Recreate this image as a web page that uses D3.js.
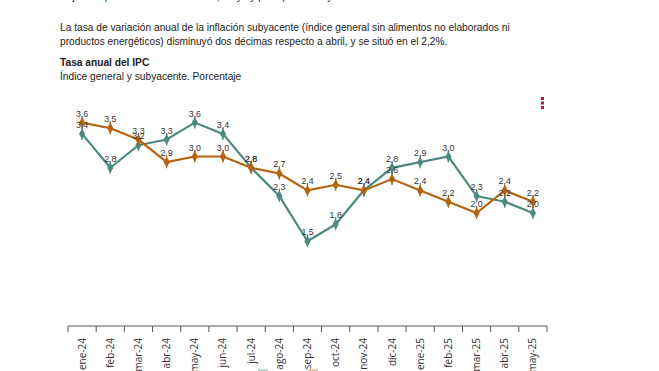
<!DOCTYPE html>
<html>
<head>
<meta charset="utf-8">
<script src="https://cdn.jsdelivr.net/npm/d3@7"></script>
<style>
  body { margin: 0; background: #fff; }
  svg { display: block; }
  .txt { font-family: "Liberation Sans", Arial, sans-serif; font-size: 10.2px; fill: #222; }
  .val { font-family: "Liberation Sans", Arial, sans-serif; font-size: 8.8px; fill: #333; }
  .tick text { font-family: "Open Sans", "DejaVu Sans", sans-serif; font-size: 10px; fill: #333; }
</style>
</head>
<body>
<div id="chart"></div>
<script>
// datos
var months = ['ene-24','feb-24','mar-24','abr-24','may-24','jun-24','jul-24','ago-24','sep-24',
              'oct-24','nov-24','dic-24','ene-25','feb-25','mar-25','abr-25','may-25'];
var general = [3.4, 2.8, 3.2, 3.3, 3.6, 3.4, 2.8, 2.3, 1.5, 1.8, 2.4, 2.8, 2.9, 3.0, 2.3, 2.2, 2.0];
var subyacente = [3.6, 3.5, 3.3, 2.9, 3.0, 3.0, 2.8, 2.7, 2.4, 2.5, 2.4, 2.6, 2.4, 2.2, 2.0, 2.4, 2.2];

var W = 659, H = 371;
var svg = d3.select('#chart').append('svg').attr('width', W).attr('height', H);

// texto
svg.append('text').attr('class', 'txt').attr('x', 60).attr('y', 0)
  .text('Bajan los precios de la electricidad, mayo y principalmente y');
svg.append('text').attr('class', 'txt').attr('x', 60).attr('y', 31)
  .text('La tasa de variación anual de la inflación subyacente (índice general sin alimentos no elaborados ni');
svg.append('text').attr('class', 'txt').attr('x', 60).attr('y', 45)
  .text('productos energéticos) disminuyó dos décimas respecto a abril, y se situó en el 2,2%.');
svg.append('text').attr('class', 'txt').attr('x', 60).attr('y', 66)
  .style('font-weight', 'bold').text('Tasa anual del IPC');
svg.append('text').attr('class', 'txt').attr('x', 60).attr('y', 80)
  .text('Índice general y subyacente. Porcentaje');

// menu
[97, 101.5, 106].forEach(function(y) {
  svg.append('rect').attr('x', 541).attr('y', y).attr('width', 3).attr('height', 3).attr('fill', '#b5123e');
});

var x = d3.scaleBand().domain(months).range([68, 547]);
var y = d3.scaleLinear().domain([0, 4]).range([326, 100]);

var axis = d3.axisBottom(x).tickSize(0).tickPadding(0);
var gx = svg.append('g').attr('transform', 'translate(0,326)').call(axis);
gx.select('.domain').attr('stroke', '#555').attr('d', 'M68,0H547');
gx.selectAll('.tick text')
  .attr('transform', 'rotate(-90)')
  .attr('text-anchor', 'end')
  .attr('x', -12).attr('y', 0).attr('dy', '0.35em');
// marcas entre meses
var bounds = months.map(function(m) { return x(m); }).concat([x.range()[1]]);
gx.selectAll('.sep').data(bounds).enter().append('line')
  .attr('x1', function(d) { return d; }).attr('x2', function(d) { return d; })
  .attr('y1', 0).attr('y2', 6).attr('stroke', '#555');

var cx = function(d, i) { return x(months[i]) + x.bandwidth() / 2; };

function drawSeries(vals, color) {
  var line = d3.line().x(function(d, i) { return cx(d, i); }).y(function(d) { return y(d); });
  svg.append('path').datum(vals).attr('d', line).attr('fill', 'none')
    .attr('stroke', color).attr('stroke-width', 2.2);
  var g = svg.append('g');
  var pts = g.selectAll('g').data(vals).enter().append('g')
    .attr('transform', function(d, i) { return 'translate(' + cx(d, i) + ',' + y(d) + ')'; });
  pts.append('path').attr('d', d3.symbol(d3.symbolDiamond, 34)()).attr('fill', color);
  pts.append('line').attr('x1', 0).attr('x2', 0).attr('y1', -6).attr('y2', 6)
    .attr('stroke', color).attr('stroke-width', 1.2);
}

drawSeries(general, '#4c8a7f');
drawSeries(subyacente, '#b5620e');

function drawLabels(vals) {
  svg.append('g').selectAll('text').data(vals).enter().append('text')
    .attr('class', 'val').attr('text-anchor', 'middle')
    .attr('x', function(d, i) { return cx(d, i); })
    .attr('y', function(d) { return y(d) - 6; })
    .text(function(d) { return d3.format('.1f')(d).replace('.', ','); });
}
drawLabels(general);
drawLabels(subyacente);

// leyenda (cortada)
svg.append('line').attr('x1', 258).attr('x2', 268).attr('y1', 370).attr('y2', 370)
  .attr('stroke', '#4c8a7f').attr('stroke-width', 2).attr('opacity', 0.35);
svg.append('line').attr('x1', 308).attr('x2', 318).attr('y1', 370).attr('y2', 370)
  .attr('stroke', '#b5620e').attr('stroke-width', 2).attr('opacity', 0.35);
</script>
</body>
</html>
